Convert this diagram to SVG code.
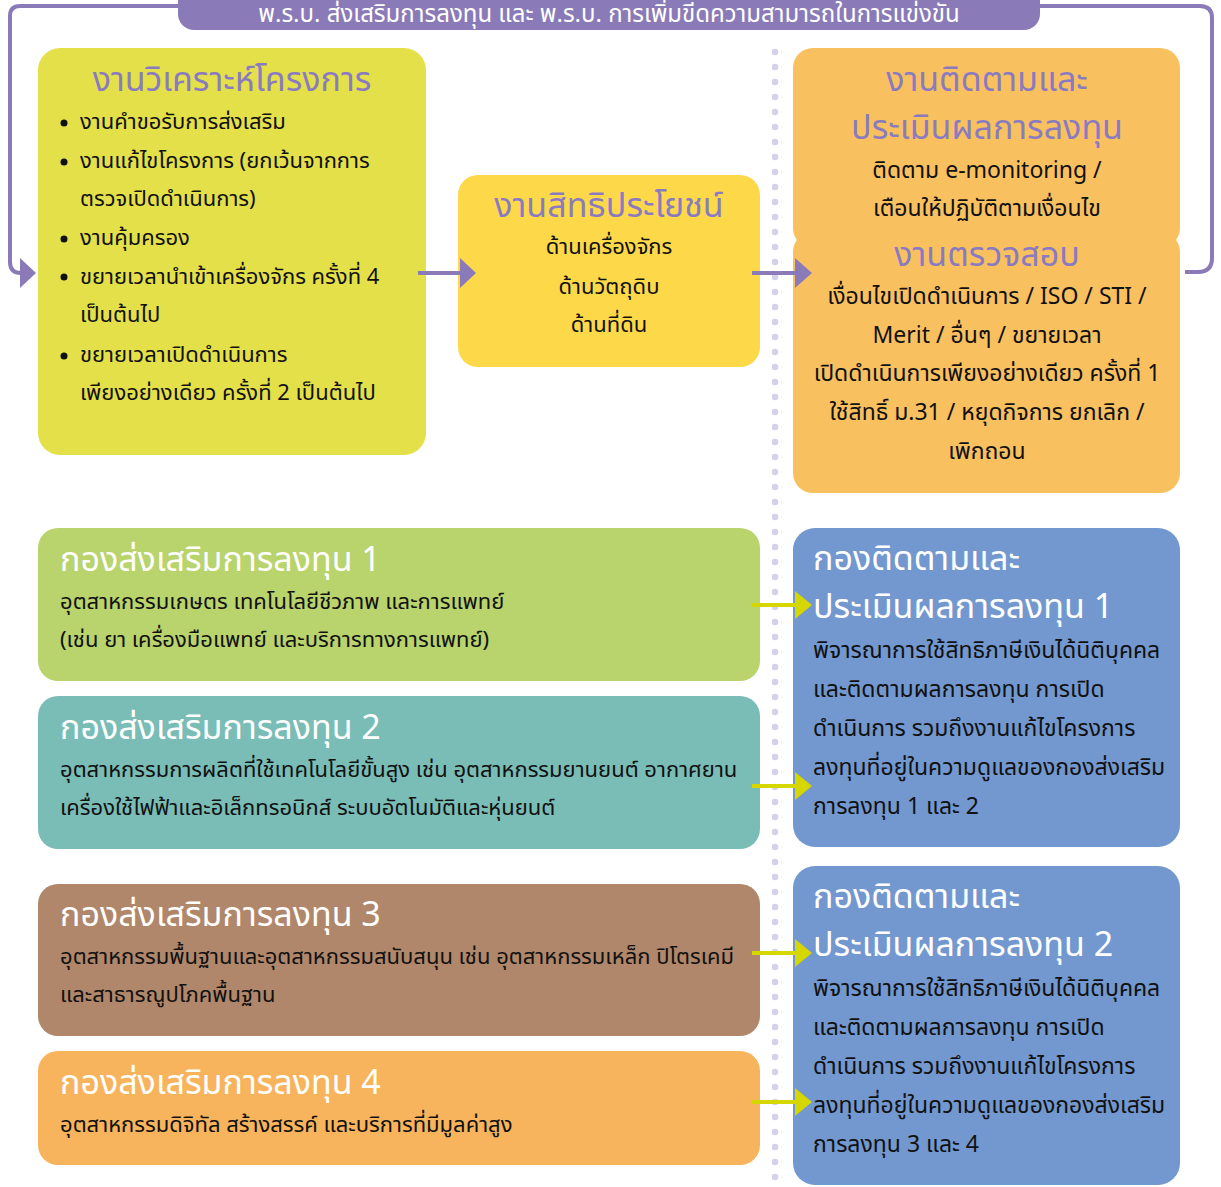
<svg xmlns="http://www.w3.org/2000/svg" width="1221" height="1187" viewBox="0 0 1221 1187">
<defs>
<style>
.th{font-family:"Noto Sans Thai","Noto Sans","DejaVu Sans",sans-serif}
.title{font-size:34px;fill:#8a7bc0}
.wtitle{font-size:34px;fill:#ffffff}
.body{font-size:22px;fill:#111111}
.bodyb{font-size:23px;fill:#111111}
.hdr{font-size:24px;fill:#ffffff}
.pl{stroke:#8a7bb8;stroke-width:4;fill:none}
.yl{stroke:#d6d600;stroke-width:4;fill:none}
</style>
<pattern id="dots" x="0" y="0" width="10" height="15" patternUnits="userSpaceOnUse"><circle cx="5" cy="7" r="3.3" fill="#d6d0ea"/></pattern>
</defs>
<rect width="1221" height="1187" fill="#ffffff"/>
<rect x="772" y="42" width="10" height="1145" fill="url(#dots)"/>

<path class="pl" d="M180,6 H20 Q10,6 10,16 V262 Q10,273 21,273"/>
<path class="pl" d="M1040,6 H1200 Q1212,6 1212,18 V258 Q1212,272 1198,272 H1185"/>

<g id="header">
<rect x="178" y="-20" width="862" height="50" rx="16" fill="#8a7bb8"/>
<text class="th hdr" x="609" y="22" text-anchor="middle">พ.ร.บ. ส่งเสริมการลงทุน และ พ.ร.บ. การเพิ่มขีดความสามารถในการแข่งขัน</text>
</g>

<g id="analysis">
<rect x="38" y="48" width="388" height="407" rx="22" fill="#e4e04a"/>
<text class="th title" x="232" y="91" text-anchor="middle">งานวิเคราะห์โครงการ</text>
<g class="th body">
<circle cx="64" cy="123" r="3.5" fill="#111"/>
<text x="80" y="129">งานคำขอรับการส่งเสริม</text>
<circle cx="64" cy="162" r="3.5" fill="#111"/>
<text x="80" y="168">งานแก้ไขโครงการ (ยกเว้นจากการ</text>
<text x="80" y="206">ตรวจเปิดดำเนินการ)</text>
<circle cx="64" cy="239" r="3.5" fill="#111"/>
<text x="80" y="245">งานคุ้มครอง</text>
<circle cx="64" cy="277" r="3.5" fill="#111"/>
<text x="80" y="284">ขยายเวลานำเข้าเครื่องจักร ครั้งที่ 4</text>
<text x="80" y="322">เป็นต้นไป</text>
<circle cx="64" cy="356" r="3.5" fill="#111"/>
<text x="80" y="362">ขยายเวลาเปิดดำเนินการ</text>
<text x="80" y="400">เพียงอย่างเดียว ครั้งที่ 2 เป็นต้นไป</text>
</g>
</g>

<g id="benefits">
<rect x="458" y="175" width="302" height="192" rx="20" fill="#fdd94a"/>
<text class="th title" x="609" y="217" text-anchor="middle">งานสิทธิประโยชน์</text>
<g class="th body" text-anchor="middle">
<text x="609" y="254">ด้านเครื่องจักร</text>
<text x="609" y="294">ด้านวัตถุดิบ</text>
<text x="609" y="332">ด้านที่ดิน</text>
</g>
</g>

<g id="monitoring">
<rect x="793" y="48" width="387" height="200" rx="20" fill="#f9c060"/>
<rect x="793" y="232" width="387" height="261" rx="20" fill="#f9c060"/>
<g text-anchor="middle">
<text class="th title" x="987" y="91">งานติดตามและ</text>
<text class="th title" x="987" y="139">ประเมินผลการลงทุน</text>
<text class="th bodyb" x="987" y="178">ติดตาม e-monitoring /</text>
<text class="th bodyb" x="987" y="216">เตือนให้ปฏิบัติตามเงื่อนไข</text>
<text class="th title" x="987" y="266">งานตรวจสอบ</text>
<text class="th bodyb" x="987" y="304">เงื่อนไขเปิดดำเนินการ / ISO / STI /</text>
<text class="th bodyb" x="987" y="343">Merit / อื่นๆ / ขยายเวลา</text>
<text class="th bodyb" x="987" y="381">เปิดดำเนินการเพียงอย่างเดียว ครั้งที่ 1</text>
<text class="th bodyb" x="987" y="420">ใช้สิทธิ์ ม.31 / หยุดกิจการ ยกเลิก /</text>
<text class="th bodyb" x="987" y="459">เพิกถอน</text>
</g>
</g>

<g id="div1">
<rect x="38" y="528" width="722" height="153" rx="20" fill="#b9d36d"/>
<text class="th wtitle" x="60" y="571">กองส่งเสริมการลงทุน 1</text>
<text class="th body" x="60" y="609">อุตสาหกรรมเกษตร เทคโนโลยีชีวภาพ และการแพทย์</text>
<text class="th body" x="60" y="647">(เช่น ยา เครื่องมือแพทย์ และบริการทางการแพทย์)</text>
</g>

<g id="div2">
<rect x="38" y="696" width="722" height="153" rx="20" fill="#7abcb6"/>
<text class="th wtitle" x="60" y="739">กองส่งเสริมการลงทุน 2</text>
<text class="th body" x="60" y="777">อุตสาหกรรมการผลิตที่ใช้เทคโนโลยีขั้นสูง เช่น อุตสาหกรรมยานยนต์ อากาศยาน</text>
<text class="th body" x="60" y="815">เครื่องใช้ไฟฟ้าและอิเล็กทรอนิกส์ ระบบอัตโนมัติและหุ่นยนต์</text>
</g>

<g id="div3">
<rect x="38" y="884" width="722" height="152" rx="20" fill="#b0876a"/>
<text class="th wtitle" x="60" y="926">กองส่งเสริมการลงทุน 3</text>
<text class="th body" x="60" y="964">อุตสาหกรรมพื้นฐานและอุตสาหกรรมสนับสนุน เช่น อุตสาหกรรมเหล็ก ปิโตรเคมี</text>
<text class="th body" x="60" y="1002">และสาธารณูปโภคพื้นฐาน</text>
</g>

<g id="div4">
<rect x="38" y="1051" width="722" height="114" rx="20" fill="#f7b45c"/>
<text class="th wtitle" x="60" y="1094">กองส่งเสริมการลงทุน 4</text>
<text class="th body" x="60" y="1132">อุตสาหกรรมดิจิทัล สร้างสรรค์ และบริการที่มีมูลค่าสูง</text>
</g>

<g id="mon1">
<rect x="793" y="528" width="387" height="319" rx="22" fill="#7298cf"/>
<text class="th wtitle" x="813" y="570">กองติดตามและ</text>
<text class="th wtitle" x="813" y="618">ประเมินผลการลงทุน 1</text>
<g class="th bodyb">
<text x="813" y="658">พิจารณาการใช้สิทธิภาษีเงินได้นิติบุคคล</text>
<text x="813" y="697">และติดตามผลการลงทุน การเปิด</text>
<text x="813" y="736">ดำเนินการ รวมถึงงานแก้ไขโครงการ</text>
<text x="813" y="775">ลงทุนที่อยู่ในความดูแลของกองส่งเสริม</text>
<text x="813" y="814">การลงทุน 1 และ 2</text>
</g>
</g>

<g id="mon2">
<rect x="793" y="866" width="387" height="319" rx="22" fill="#7298cf"/>
<text class="th wtitle" x="813" y="908">กองติดตามและ</text>
<text class="th wtitle" x="813" y="956">ประเมินผลการลงทุน 2</text>
<g class="th bodyb">
<text x="813" y="996">พิจารณาการใช้สิทธิภาษีเงินได้นิติบุคคล</text>
<text x="813" y="1035">และติดตามผลการลงทุน การเปิด</text>
<text x="813" y="1074">ดำเนินการ รวมถึงงานแก้ไขโครงการ</text>
<text x="813" y="1113">ลงทุนที่อยู่ในความดูแลของกองส่งเสริม</text>
<text x="813" y="1152">การลงทุน 3 และ 4</text>
</g>
</g>

<g id="connectors">
<path d="M20,258 L36,273 L20,288 Z" fill="#8a7bb8"/>
<path class="pl" d="M418,273 H462"/>
<path d="M460,258 L476,273 L460,288 Z" fill="#8a7bb8"/>
<path class="pl" d="M752,273 H797"/>
<path d="M795,258 L812,273 L795,288 Z" fill="#8a7bb8"/>
<path class="yl" d="M752,605 H797"/>
<path d="M795,591 L812,605 L795,619 Z" fill="#d6d600"/>
<path class="yl" d="M752,786 H797"/>
<path d="M795,772 L812,786 L795,800 Z" fill="#d6d600"/>
<path class="yl" d="M752,953 H797"/>
<path d="M795,939 L812,953 L795,967 Z" fill="#d6d600"/>
<path class="yl" d="M752,1102 H797"/>
<path d="M795,1088 L812,1102 L795,1116 Z" fill="#d6d600"/>
</g>
</svg>
